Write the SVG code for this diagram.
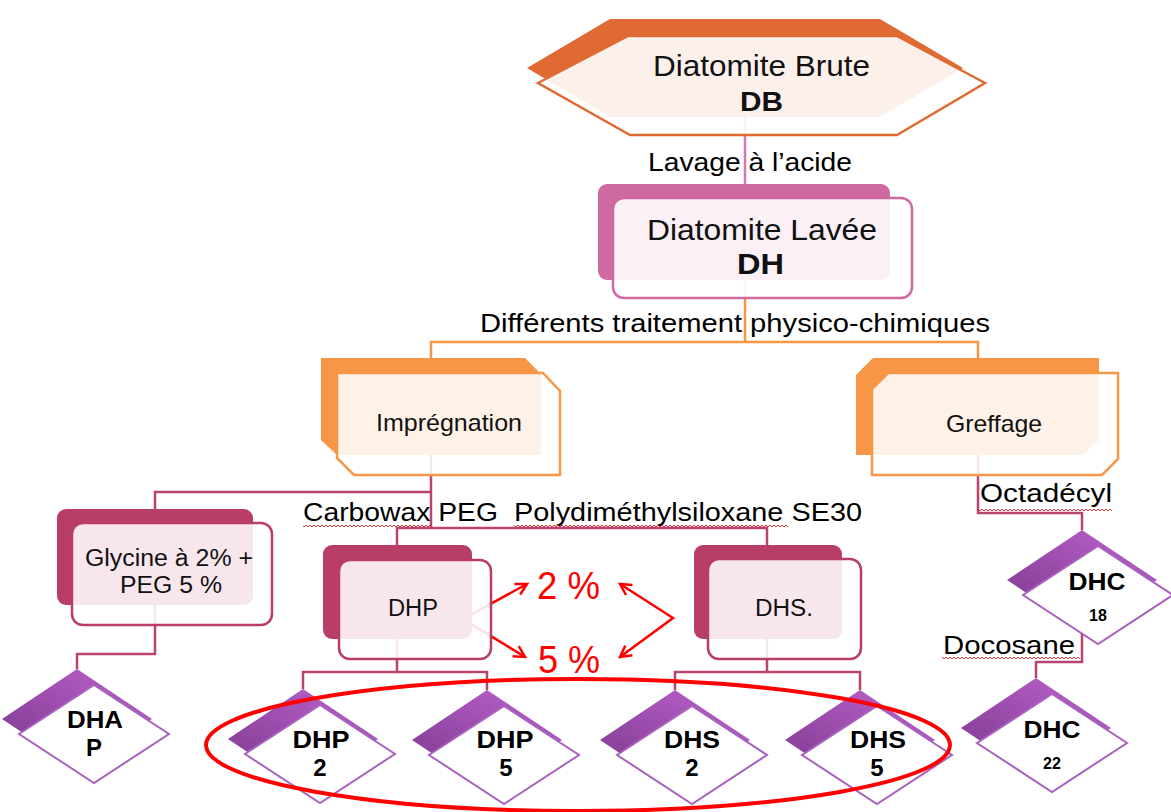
<svg xmlns="http://www.w3.org/2000/svg" width="1171" height="812" viewBox="0 0 1171 812">
<style>
  .t{font-family:"Liberation Sans",Arial,sans-serif;fill:#111}
  .b{font-weight:bold}
  .lbl{font-family:"Liberation Sans",Arial,sans-serif;fill:#000;font-size:26px}
  .cp{fill:none;stroke:#B8446F;stroke-width:2.5}
  .co{fill:none;stroke:#F79646;stroke-width:2.5}
  .cl{fill:none;stroke:#D27AAE;stroke-width:2.5}
  .red{fill:none;stroke:#FF0000;stroke-width:2.5}
  .db-back{fill:#E06A33}
  .db-front{fill:#fff;fill-opacity:.9;stroke:#E06A33;stroke-width:2.5}
  .dh-back{fill:#CF6AA0}
  .dh-front{fill:#fff;fill-opacity:.9;stroke:#CF6AA0;stroke-width:2.5}
  .or-back{fill:#F79646}
  .or-front{fill:#fff;fill-opacity:.88;stroke:#F79646;stroke-width:2.5}
  .pk-back{fill:#B83D68}
  .pk-front{fill:#fff;fill-opacity:.88;stroke:#B83D68;stroke-width:2.5}
  .dm-back{fill:url(#pg)}
  .dm-front{fill:#fff;stroke:#A862BE;stroke-width:2}
  .dl{font-family:"Liberation Sans",Arial,sans-serif;font-weight:bold;fill:#000;font-size:24px;text-anchor:middle}
  .ds{font-size:16px}
  .pct{font-family:"Liberation Sans",Arial,sans-serif;fill:#FF0000;font-size:38px}
</style>
<defs>
  <linearGradient id="pg" x1="0.7" y1="0" x2="0.2" y2="0.6">
    <stop offset="0" stop-color="#B55DC5"/>
    <stop offset="1" stop-color="#8E449F"/>
  </linearGradient>
  <marker id="arr" markerWidth="16" markerHeight="16" refX="13" refY="8" orient="auto-start-reverse" markerUnits="userSpaceOnUse">
    <path d="M2,2 L13,8 L2,14" fill="none" stroke="#FF0000" stroke-width="2.5"/>
  </marker>
  <pattern id="wavy" width="4" height="4" patternUnits="userSpaceOnUse">
    <path d="M0,3 L2,1 L4,3" fill="none" stroke="#E02020" stroke-width="0.9"/>
  </pattern>
</defs>

<g id="connectors">
  <path class="cl" d="M745,117 V184"/>
  <path class="co" d="M745,280 V342"/>
  <path class="co" d="M431,358 V342 H978 V358"/>
  <path class="cp" d="M431,455 V528"/>
  <path class="cp" d="M431,492 H155 V509"/>
  <path class="cp" d="M397,545 V528 H767 V545"/>
  <path class="cp" d="M155,605 V654 H77 V669"/>
  <path class="cp" d="M397,639 V672 H303 V689"/>
  <path class="cp" d="M397,672 H487 V690"/>
  <path class="cp" d="M767,639 V672 H675 V690"/>
  <path class="cp" d="M767,672 H860 V690"/>
  <path class="cp" d="M978,455 V513 H1082 V530"/>
  <path class="cp" d="M1082,630 V662 H1036 V678"/>
  <path class="red" d="M527,584 L463,619 L525,657" marker-start="url(#arr)" marker-end="url(#arr)"/>
  <path class="red" d="M620,584 L673,618 L620,657" marker-start="url(#arr)" marker-end="url(#arr)"/>
</g>

<g id="connector-labels">
  <text class="lbl" x="648" y="171" textLength="204" lengthAdjust="spacingAndGlyphs">Lavage à l’acide</text>
  <text class="lbl" x="480" y="332" textLength="510" lengthAdjust="spacingAndGlyphs">Différents traitement physico-chimiques</text>
  <text class="lbl" x="303" y="521" textLength="195" lengthAdjust="spacingAndGlyphs">Carbowax PEG</text>
  <text class="lbl" x="514" y="521" textLength="348" lengthAdjust="spacingAndGlyphs">Polydiméthylsiloxane SE30</text>
  <text class="lbl" x="980" y="502" textLength="132" lengthAdjust="spacingAndGlyphs">Octadécyl</text>
  <text class="lbl" x="943" y="654" textLength="132" lengthAdjust="spacingAndGlyphs">Docosane</text>
  <rect x="303" y="524" width="129" height="4" fill="url(#wavy)"/>
  <rect x="514" y="524" width="274" height="4" fill="url(#wavy)"/>
  <rect x="978" y="507" width="134" height="4" fill="url(#wavy)"/>
  <rect x="942" y="657" width="138" height="4" fill="url(#wavy)"/>
  <text class="pct" x="537" y="599" textLength="63" lengthAdjust="spacingAndGlyphs">2 %</text>
  <text class="pct" x="538" y="673" textLength="62" lengthAdjust="spacingAndGlyphs">5 %</text>
</g>

<g id="node-DB">
  <polygon class="db-back" points="527,68 610,19 880,19 963,68 880,117 610,117"/>
  <polygon class="db-front" points="538,83 628,36 897,36 985,83 897,135 630,135"/>
  <text class="t" x="653" y="76" font-size="29" fill="#000" textLength="217" lengthAdjust="spacingAndGlyphs">Diatomite Brute</text>
  <text class="t b" x="740" y="111" font-size="27" textLength="43" lengthAdjust="spacingAndGlyphs">DB</text>
</g>

<g id="node-DH">
  <rect class="dh-back" x="598" y="184" width="292" height="96" rx="9"/>
  <rect class="dh-front" x="613" y="198" width="299" height="100" rx="11"/>
  <text class="t" x="647" y="240" font-size="29" textLength="230" lengthAdjust="spacingAndGlyphs">Diatomite Lavée</text>
  <text class="t b" x="737" y="274" font-size="29" textLength="47" lengthAdjust="spacingAndGlyphs">DH</text>
</g>

<g id="node-impregnation">
  <polygon class="or-back" points="321,358 525,358 541,374 541,455 337,455 321,440"/>
  <polygon class="or-front" points="337,373 543,373 560,391 560,475 354,475 337,458"/>
  <text class="t" x="376" y="431" font-size="24" fill="#1c1c28" textLength="146" lengthAdjust="spacingAndGlyphs">Imprégnation</text>
</g>

<g id="node-greffage">
  <polygon class="or-back" points="873,358 1099,358 1099,440 1083,455 856,455 856,375"/>
  <polygon class="or-front" points="888,373 1118,373 1118,459 1102,475 872,475 872,389"/>
  <text class="t" x="946" y="432" font-size="24" fill="#1c1c28" textLength="96" lengthAdjust="spacingAndGlyphs">Greffage</text>
</g>

<g id="node-glycine">
  <rect class="pk-back" x="57" y="509" width="196" height="96" rx="9"/>
  <rect class="pk-front" x="72" y="523" width="200" height="102" rx="11"/>
  <text class="t" x="85" y="566" font-size="23" fill="#1c1c28" textLength="168" lengthAdjust="spacingAndGlyphs">Glycine à 2% +</text>
  <text class="t" x="120" y="593" font-size="23" fill="#1c1c28" textLength="102" lengthAdjust="spacingAndGlyphs">PEG 5 %</text>
</g>

<g id="node-DHP">
  <rect class="pk-back" x="323" y="545" width="149" height="94" rx="9"/>
  <rect class="pk-front" x="339" y="560" width="152" height="99" rx="11"/>
  <text class="t" x="388" y="616" font-size="23" fill="#1c1c28" textLength="50" lengthAdjust="spacingAndGlyphs">DHP</text>
</g>

<g id="node-DHS">
  <rect class="pk-back" x="694" y="545" width="148" height="94" rx="9"/>
  <rect class="pk-front" x="708" y="559" width="153" height="100" rx="11"/>
  <text class="t" x="755" y="616" font-size="23" fill="#1c1c28" textLength="58" lengthAdjust="spacingAndGlyphs">DHS.</text>
</g>

<g id="node-DHAP">
  <polygon class="dm-back" points="77,669 152,719 77,769 2,719"/>
  <polygon class="dm-front" points="94,685 169,734 94,783 19,734"/>
  <text class="dl" x="95" y="728" textLength="56" lengthAdjust="spacingAndGlyphs">DHA</text>
  <text class="dl" x="94" y="756">P</text>
</g>

<g id="node-DHP2">
  <polygon class="dm-back" points="303,689 378,739 303,789 228,739"/>
  <polygon class="dm-front" points="320,705 395,754 320,803 245,754"/>
  <text class="dl" x="321" y="748" textLength="57" lengthAdjust="spacingAndGlyphs">DHP</text>
  <text class="dl" x="320" y="776">2</text>
</g>

<g id="node-DHP5">
  <polygon class="dm-back" points="487,690 562,740 487,790 412,740"/>
  <polygon class="dm-front" points="504,706 579,755 504,804 429,755"/>
  <text class="dl" x="505" y="748" textLength="57" lengthAdjust="spacingAndGlyphs">DHP</text>
  <text class="dl" x="506" y="776">5</text>
</g>

<g id="node-DHS2">
  <polygon class="dm-back" points="675,690 750,740 675,790 600,740"/>
  <polygon class="dm-front" points="692,706 767,755 692,804 617,755"/>
  <text class="dl" x="692" y="748" textLength="56" lengthAdjust="spacingAndGlyphs">DHS</text>
  <text class="dl" x="692" y="776">2</text>
</g>

<g id="node-DHS5">
  <polygon class="dm-back" points="860,690 935,740 860,790 785,740"/>
  <polygon class="dm-front" points="877,706 952,755 877,804 802,755"/>
  <text class="dl" x="878" y="748" textLength="56" lengthAdjust="spacingAndGlyphs">DHS</text>
  <text class="dl" x="877" y="776">5</text>
</g>

<g id="node-DHC18">
  <polygon class="dm-back" points="1082,530 1157,580 1082,630 1007,580"/>
  <polygon class="dm-front" points="1098,546 1173,595 1098,644 1023,595"/>
  <text class="dl" x="1097" y="590" textLength="57" lengthAdjust="spacingAndGlyphs">DHC</text>
  <text class="dl ds" x="1098" y="621">18</text>
</g>

<g id="node-DHC22">
  <polygon class="dm-back" points="1036,678 1111,728 1036,778 961,728"/>
  <polygon class="dm-front" points="1052,694 1127,743 1052,792 977,743"/>
  <text class="dl" x="1052" y="738" textLength="57" lengthAdjust="spacingAndGlyphs">DHC</text>
  <text class="dl ds" x="1052" y="769">22</text>
</g>

<g id="highlight">
  <ellipse cx="578" cy="745" rx="372" ry="66" fill="none" stroke="#FF0000" stroke-width="4"/>
</g>
</svg>
